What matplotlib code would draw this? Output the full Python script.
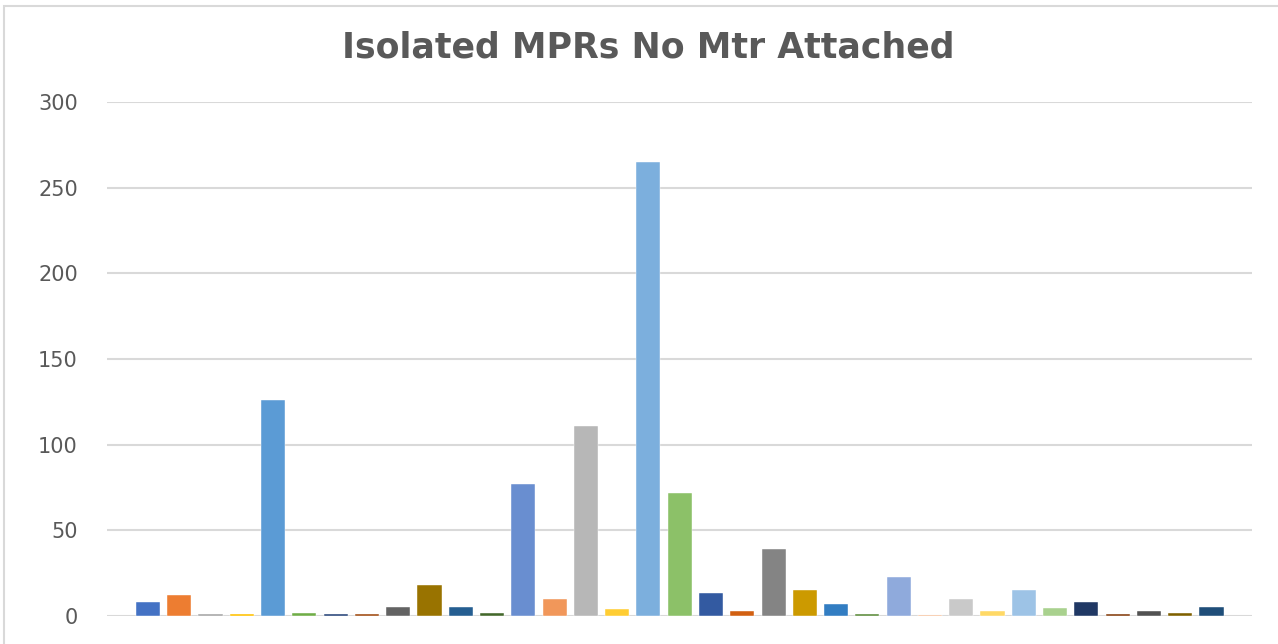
import matplotlib.pyplot as plt
from matplotlib.patches import Rectangle

# one value per series (Excel style, each bar its own colour)
values = [8, 12, 1, 1, 126, 1.5, 1, 1, 5, 18, 5, 1.5,
          77, 10, 111, 4, 265, 72, 13.5, 3, 39, 15, 7, 1,
          23, 0.8, 10, 3, 15, 4.5, 8, 1, 3, 1.5, 5]
colors = ["#4472C4", "#ED7D31", "#A5A5A5", "#FFC000", "#5B9BD5", "#70AD47",
          "#264478", "#9E480E", "#636363", "#997300", "#255E91", "#43682B",
          "#698ED0", "#F1975A", "#B7B7B7", "#FFCD33", "#7CAFDD", "#8CC168",
          "#335AA1", "#D26012", "#848484", "#CC9A00", "#327DC2", "#5A8A39",
          "#8FAADC", "#F4B183", "#C9C9C9", "#FFD966", "#9DC3E6", "#A9D18E",
          "#203864", "#843C0C", "#525252", "#7F6000", "#1F4E79"]
yticks = [0, 50, 100, 150, 200, 250, 300]
title = "Isolated MPRs No Mtr Attached"

fig = plt.figure(figsize=(12.78, 6.44), dpi=100)
ax = fig.add_axes([0.0837, 0.0435, 0.8963, 0.798])

x = list(range(len(values)))
ax.bar(x, values, width=0.77, color=colors, edgecolor="white", linewidth=0.3, zorder=3)

ax.set_xlim(-1.31, len(values) - 1 + 1.31)
ax.set_ylim(0, 300)
ax.set_yticks(yticks)
ax.set_xticks([])
ax.yaxis.grid(True, color="#D9D9D9", linewidth=1.5, zorder=0)
for s in ax.spines.values():
    s.set_visible(False)
ax.tick_params(axis="y", length=0, pad=21, labelsize=15, labelcolor="#595959")

fig.text(0.507, 0.927, title, ha="center", va="center", fontsize=25,
         fontweight="bold", color="#595959")

# chart border
fig.patches.append(Rectangle((0.003, -0.01), 1.0, 1.0, transform=fig.transFigure,
                             fill=False, edgecolor="#D9D9D9", linewidth=1.5))

fig.savefig("out.png", dpi=100)
